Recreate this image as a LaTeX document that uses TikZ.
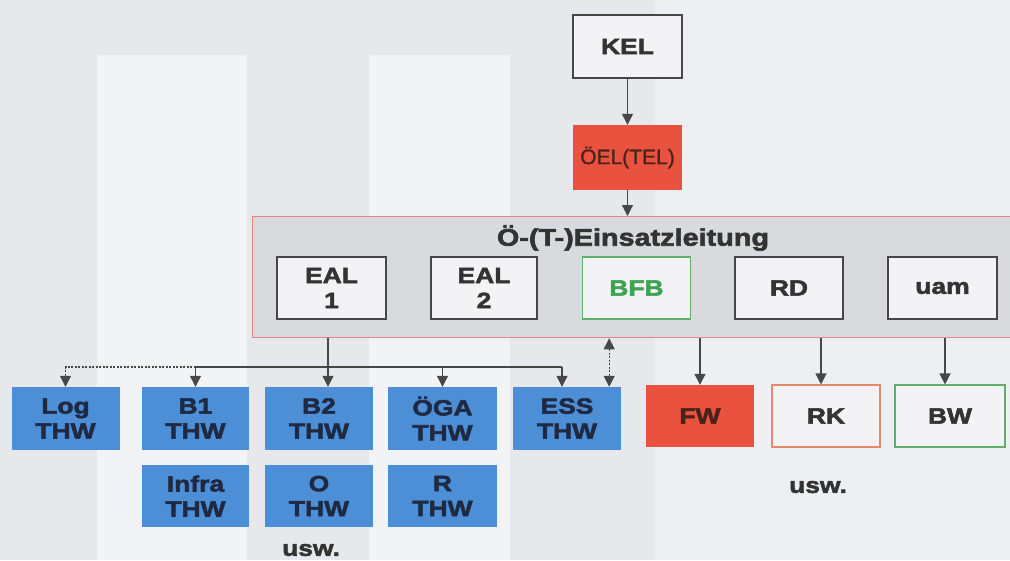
\documentclass[tikz,border=0pt]{standalone}
\usepackage{fontspec}
\newfontfamily\diafont{Liberation Sans}[FakeStretch=1.2, BoldFeatures={FakeBold=2.5}]
\newfontfamily\diafontn{Liberation Sans}[FakeBold=1.2]
\usetikzlibrary{arrows.meta}
\definecolor{bgcol}{HTML}{E7E8EC}
\definecolor{panelcol}{HTML}{F2F3F5}
\definecolor{rightcol}{HTML}{EEEFF2}
\definecolor{elfill}{HTML}{D9DADD}
\definecolor{elborder}{HTML}{E2858A}
\definecolor{boxfill}{HTML}{F3F3F5}
\definecolor{linecol}{HTML}{474747}
\definecolor{txtcol}{HTML}{333333}
\definecolor{thwblue}{HTML}{4C8FD6}
\definecolor{thwtext}{HTML}{1F2A42}
\definecolor{redfill}{HTML}{E8523F}
\definecolor{redtext}{HTML}{4A221C}
\definecolor{greencol}{HTML}{5DAF6B}
\definecolor{greentext}{HTML}{3EA352}
\definecolor{rkborder}{HTML}{E8896C}
\tikzset{
  boxbase/.style={minimum height=62pt, inner sep=0pt, align=center,
    font=\diafont\bfseries\fontsize{22}{25}\selectfont},
  wbox/.style={boxbase, draw=linecol, line width=1.3pt, fill=boxfill, text=txtcol},
  thw/.style={boxbase, fill=thwblue, text=thwtext, minimum height=63pt},
  redbox/.style={boxbase, fill=redfill, text=redtext},
  tip/.tip={Triangle[width=11pt,length=11pt]},
  conn/.style={draw=linecol, line width=1.2pt},
  arr/.style={conn, -tip},
  dotconn/.style={draw=linecol, line width=1.2pt, dash pattern=on 2pt off 1.5pt},
  lbl/.style={font=\diafont\bfseries\fontsize{22}{24}\selectfont, text=txtcol}
}
\begin{document}
\begin{tikzpicture}[x=1pt, y=-1pt]
  \useasboundingbox (0,0) rectangle (1010,560);
  \clip (0,0) rectangle (1010,560);
  % background
  \fill[bgcol] (0,0) rectangle (1010,560);
  \fill[panelcol] (97,55) rectangle (247,560);
  \fill[panelcol] (369,55) rectangle (510,560);
  \fill[rightcol] (655,0) rectangle (1010,560);

  % top chain
  \node[wbox, minimum width=109pt, minimum height=63pt] (KEL) at (627.5,46.5) {KEL};
  \node[redbox, minimum width=109pt, minimum height=65pt,
        font=\diafontn\fontsize{21}{23}\selectfont] (OEL) at (627.5,157.5) {ÖEL(TEL)};

  % Einsatzleitung frame
  \node[draw=elborder, line width=1.3pt, fill=elfill, minimum width=770pt,
        minimum height=121pt, inner sep=0pt, anchor=north west] (EL) at (252,216) {};
  \node[font=\diafont\bfseries\fontsize{24}{26}\selectfont, text=txtcol] (title) at (633,238) {Ö-(T-)Einsatzleitung};

  \node[wbox, minimum width=109pt] (EAL1) at (331.5,288) {EAL\\1};
  \node[wbox, minimum width=106pt] (EAL2) at (484,288) {EAL\\2};
  \node[wbox, minimum width=108pt, draw=greencol, text=greentext] (BFB) at (636.5,288) {BFB};
  \node[wbox, minimum width=108pt] (RD) at (789,288) {RD};
  \node[wbox, minimum width=109pt] (uam) at (942.5,288) {uam};

  % THW row 1
  \node[thw, minimum width=108pt] (Log) at (65.5,418.5) {Log\\THW};
  \node[thw, minimum width=107pt] (B1) at (195.5,418.5) {B1\\THW};
  \node[thw, minimum width=108pt] (B2) at (319,418.5) {B2\\THW};
  \node[thw, minimum width=109pt] (OEGA) at (442.5,418.5) {ÖGA\\THW};
  \node[thw, minimum width=108pt] (ESS) at (567,418.5) {ESS\\THW};
  % THW row 2
  \node[thw, minimum width=107pt, minimum height=62pt] (Infra) at (195.5,496) {Infra\\THW};
  \node[thw, minimum width=108pt, minimum height=62pt] (O) at (319,496) {O\\THW};
  \node[thw, minimum width=109pt, minimum height=62pt] (R) at (442.5,496) {R\\THW};
  \node[lbl] (usw1) at (311,550) {usw.};

  % right row
  \node[redbox, minimum width=108pt] (FW) at (700,416) {FW};
  \node[wbox, minimum width=108pt, draw=rkborder, line width=1.1pt] (RK) at (826,416) {RK};
  \node[wbox, minimum width=110pt, draw=greencol, line width=1.1pt] (BW) at (950,416) {BW};
  \node[lbl] (usw2) at (818,487) {usw.};

  % connectors
  \coordinate (hl) at (0,367);
  \draw[arr] (KEL.south) -- (OEL.north);
  \draw[arr] (OEL.south) -- (OEL.south |- EL.north);
  \coordinate (d1) at ([xshift=-3.5pt]EAL1.south |- EL.south);
  \draw[arr] (d1) -- (d1 |- B2.north);
  \draw[conn] (B1.north |- hl) -- ([xshift=-5pt]ESS.north |- hl);
  \draw[arr] (B1.north |- hl) -- (B1.north);
  \draw[arr] (OEGA.north |- hl) -- (OEGA.north);
  \draw[arr] ([xshift=-5pt]ESS.north |- hl) -- ([xshift=-5pt]ESS.north);
  \draw[dotconn, -tip] (B1.north |- hl) -- (Log.north |- hl) -- (Log.north);
  \draw[dotconn, tip-tip]
     ([xshift=-12pt]ESS.north east |- EL.south) -- ([xshift=-12pt]ESS.north east);
  \draw[arr] (FW.north |- EL.south) -- (FW.north);
  \draw[arr] ([xshift=-5pt]RK.north |- EL.south) -- ([xshift=-5pt]RK.north);
  \draw[arr] ([xshift=-5pt]BW.north |- EL.south) -- ([xshift=-5pt]BW.north);
\end{tikzpicture}
\end{document}
